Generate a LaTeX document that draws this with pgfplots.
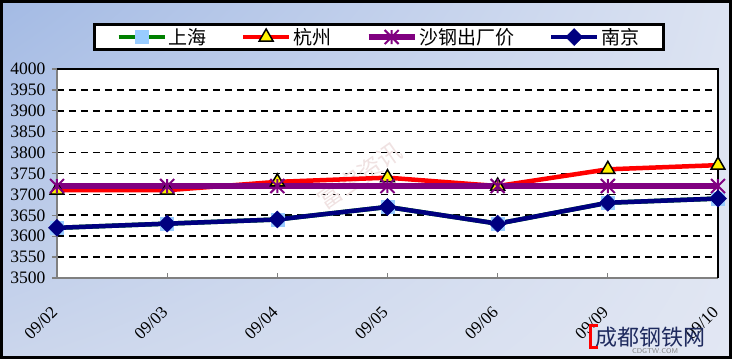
\documentclass[border=0pt]{standalone}
\usepackage{pgfplots}
\pgfplotsset{compat=1.18}
\usetikzlibrary{shadings}
\usepackage{fontspec}
\setmainfont{Liberation Serif}
\newfontfamily\tnr{Liberation Serif}
\newfontfamily\cjk{Noto Sans CJK SC}
\definecolor{bgUL}{HTML}{A3BAE4}
\definecolor{bgUR}{HTML}{DCE3F2}
\definecolor{bgLL}{HTML}{CBD6EC}
\definecolor{bgLR}{HTML}{E2E7F3}
\definecolor{shgreen}{HTML}{008000}
\definecolor{shblue}{HTML}{99CCFF}
\definecolor{sgpurple}{HTML}{800080}
\definecolor{njnavy}{HTML}{000080}
\definecolor{wm}{HTML}{F0E2E2}
\definecolor{logonavy}{HTML}{1E2A5E}
\pgfdeclareplotmark{xstar}{%
  \pgfpathmoveto{\pgfqpoint{-\pgfplotmarksize}{-\pgfplotmarksize}}%
  \pgfpathlineto{\pgfqpoint{\pgfplotmarksize}{\pgfplotmarksize}}%
  \pgfpathmoveto{\pgfqpoint{-\pgfplotmarksize}{\pgfplotmarksize}}%
  \pgfpathlineto{\pgfqpoint{\pgfplotmarksize}{-\pgfplotmarksize}}%
  \pgfpathmoveto{\pgfqpoint{0pt}{-\pgfplotmarksize}}%
  \pgfpathlineto{\pgfqpoint{0pt}{\pgfplotmarksize}}%
  \pgfusepathqstroke}
\begin{document}
\begin{tikzpicture}
\useasboundingbox (0pt,0pt) rectangle (732pt,359pt);
\shade[upper left=bgUL, upper right=bgUR, lower left=bgLL, lower right=bgLR] (0pt,0pt) rectangle (732pt,359pt);
\draw[black, line width=3pt] (1.5pt,1.5pt) rectangle (730.5pt,357.5pt);
\begin{axis}[
  at={(57pt,81pt)}, anchor=south west, scale only axis,
  width=661pt, height=209pt,
  xmin=0, xmax=6, ymin=3500, ymax=4000,
  xtick={0,1,2,3,4,5,6},
  xticklabels={09/02,09/03,09/04,09/05,09/06,09/09,09/10},
  ytick={3500,3550,3600,3650,3700,3750,3800,3850,3900,3950,4000},
  axis background/.style={fill=white},
  axis line style={draw=none},
  clip=false,
  ymajorgrids,
  grid style={black, line width=1.6pt, dash pattern=on 7pt off 5pt},
  tick pos=left, tick align=outside, major tick length=5pt,
  tick style={draw=gray, line width=1.3pt},
  xtick style={yshift=5pt},
  /pgf/number format/assume math mode=true,
  /pgf/number format/1000 sep={},
  yticklabel={\tnr\pgfmathprintnumber{\tick}},
  yticklabel style={font=\tnr\fontsize{17.5}{17.5}\selectfont, xshift=-3pt},
  xticklabel style={font=\tnr\fontsize{17}{17}\selectfont, rotate=45, anchor=east},
  xticklabel shift=24pt,
  legend columns=4,
  legend cell align=left,
  legend style={at={(0.487,1.153)}, anchor=center, draw=black, line width=3pt, fill=white,
    font=\cjk\fontsize{19}{19}\selectfont, inner xsep=22pt, inner ysep=2pt,
    /tikz/every even column/.append style={column sep=32pt}},
  legend image code/.code={\draw[mark repeat=2, mark phase=2] plot coordinates {(0pt,0pt) (23pt,0pt) (46pt,0pt)};},
]
\node[font=\cjk\fontsize{24}{24}\selectfont, text=wm, rotate=35] at (axis cs:2.75,3745) {富宝资讯};
\draw[gray, line width=2pt] (rel axis cs:0,1) -- (rel axis cs:0,0) -- (rel axis cs:1,0);
\draw[black, line width=2pt] (rel axis cs:0,1) -- (rel axis cs:1,1) -- (rel axis cs:1,0);

\addplot[color=shgreen, line width=4.5pt, mark=square*, mark size=6.5pt,
  mark options={fill=shblue, draw=shblue, line width=0.5pt}]
  coordinates {(0,3620) (1,3630) (2,3640) (3,3670) (4,3630) (5,3680) (6,3690)};
\addlegendentry{上海}
\addplot[color=red, line width=4.5pt, mark=triangle*, mark size=8pt,
  mark options={fill=yellow, draw=black, line width=1.5pt}]
  coordinates {(0,3710) (1,3710) (2,3730) (3,3740) (4,3720) (5,3760) (6,3770)};
\addlegendentry{杭州}
\addplot[color=sgpurple, line width=6.5pt, mark=xstar, mark size=7pt,
  mark options={line width=2pt}]
  coordinates {(0,3720) (1,3720) (2,3720) (3,3720) (4,3720) (5,3720) (6,3720)};
\addlegendentry{沙钢出厂价}
\addplot[color=njnavy, line width=4.5pt, mark=square*, mark size=6pt,
  mark options={fill=njnavy, draw=njnavy, line width=0.5pt, rotate=45}]
  coordinates {(0,3620) (1,3630) (2,3640) (3,3670) (4,3630) (5,3680) (6,3690)};
\addlegendentry{南京}
\end{axis}
\node[font=\cjk\fontsize{22}{22}\selectfont, text=logonavy] at (650pt,22pt) {成都钢铁网};
\node[font=\sffamily\fontsize{7}{7}\selectfont, text=gray] at (655pt,8pt) {CDGTW.COM};
\draw[red, line width=3pt] (598pt,11pt) -- (590pt,11pt) -- (590pt,33pt) -- (598pt,33pt);
\end{tikzpicture}
\end{document}
